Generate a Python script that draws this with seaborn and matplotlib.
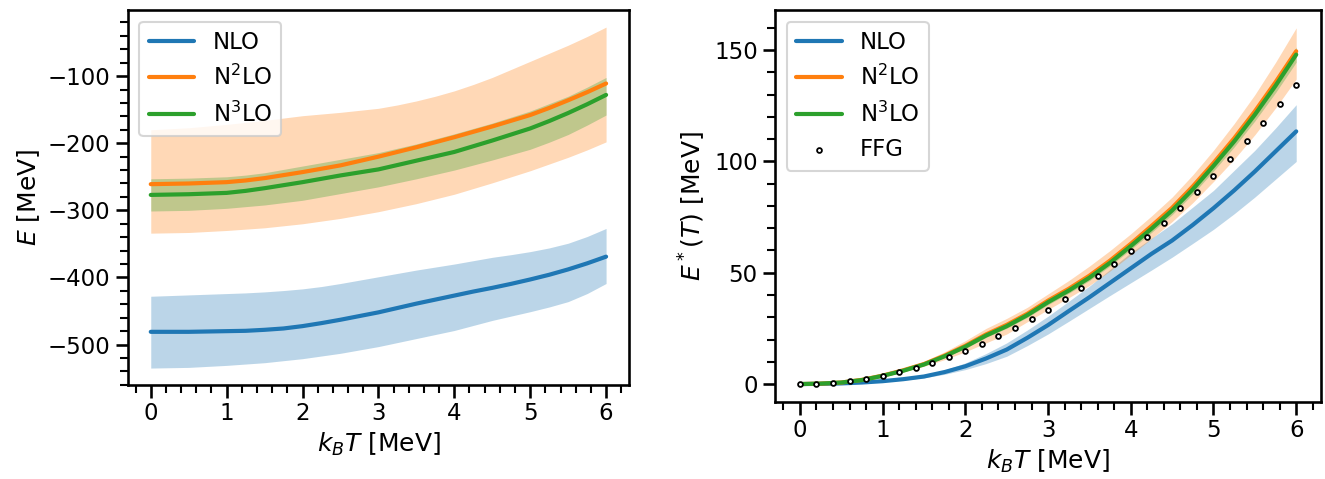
import matplotlib
matplotlib.use("Agg")
import matplotlib.pyplot as plt
from matplotlib.ticker import MultipleLocator
import seaborn as sns

# Temperature grid for the chiral-EFT curves [MeV]
kT = [0.0, 0.25, 0.5, 0.75, 1.0, 1.25, 1.5, 1.75, 2.0, 2.25, 2.5, 2.75, 3.0,
      3.25, 3.5, 3.75, 4.0, 4.25, 4.5, 4.75, 5.0, 5.25, 5.5, 5.75, 6.0]

# Total energy E(T) [MeV]: central values and truncation bands
E_nlo = [-481, -481, -481, -480.5, -480, -479.5, -478, -476, -472.5, -468, -463, -457.5, -452,
         -445.5, -439, -433, -427, -421, -415.5, -409.5, -403, -396, -388, -379, -369]
E_nlo_hi = [-428, -427, -426, -425, -424, -423, -421.5, -419.5, -417, -413.5, -409, -404, -399,
            -394, -389, -384.5, -380, -375, -370, -366, -361.5, -356, -349, -339, -327]
E_nlo_lo = [-535, -534.5, -534, -532.5, -531, -529, -527, -524, -521, -517, -513, -508, -503,
            -497, -491, -485, -479, -471.5, -464, -457.5, -451, -444, -436, -424, -409]

E_n2lo = [-261, -260.5, -260, -259, -258, -255.5, -252, -247.5, -243, -238, -233, -226.5, -220,
          -213, -206, -198.5, -191, -183, -175, -166.5, -158, -147.5, -136, -124, -111]
E_n2lo_hi = [-180, -178.5, -177, -174.5, -172, -169, -166, -162.5, -159, -156.5, -154, -151, -148,
             -143, -137, -130, -122, -112.5, -102, -90, -78, -66, -54, -41, -27]
E_n2lo_lo = [-334, -333.5, -333, -331.5, -330, -328, -326, -323, -320, -316, -312, -307, -302,
             -296, -290, -283, -276, -267.5, -259, -250, -241, -231, -221, -210, -198]

E_n3lo = [-277, -276.5, -276, -275, -274, -271, -267, -262.5, -258, -253, -248, -243.5, -239,
          -232.5, -226, -219.5, -213, -204.5, -196, -187, -178, -167, -155, -142, -128]
E_n3lo_hi = [-253, -252.5, -252, -251, -250, -247.5, -244, -239, -234, -229, -224, -219, -214,
             -207.5, -201, -193.5, -186, -178, -170, -161, -152, -141, -130, -116.5, -102]
E_n3lo_lo = [-301, -300.5, -300, -298.5, -297, -294.5, -292, -288.5, -285, -280, -275, -270, -265,
             -259, -253, -246.5, -240, -232.5, -225, -217, -209, -198.5, -187, -173, -158]

# Excitation energy E*(T) [MeV]
X_nlo = [0.0, 0.1, 0.3, 0.7, 1.3, 2.2, 3.4, 5.4, 8.0, 11.5, 15.5, 20.8, 26.5,
         32.8, 39.0, 45.5, 52.0, 58.5, 64.5, 71.5, 79.0, 87.0, 95.5, 104.5, 113.5]
X_nlo_hi = [0.0, 0.1, 0.4, 0.9, 1.6, 2.6, 4.0, 6.4, 9.5, 13.7, 18.5, 24.3, 30.5,
            37.2, 44.0, 51.5, 59.0, 65.5, 72.0, 79.5, 87.0, 96.0, 105.0, 115.0, 125.5]
X_nlo_lo = [0.0, 0.05, 0.2, 0.5, 1.0, 1.8, 2.8, 4.4, 6.5, 9.2, 12.5, 17.3, 22.5,
            28.2, 34.0, 39.8, 45.5, 51.2, 57.0, 63.2, 69.5, 76.5, 84.0, 92.0, 100.0]

X_n2lo = [0.0, 0.2, 0.7, 1.9, 3.8, 6.2, 9.0, 12.8, 17.2, 22.3, 26.6, 31.6, 37.5,
          42.8, 48.7, 55.5, 63.0, 71.0, 79.2, 88.8, 99.3, 110.4, 122.5, 135.6, 149.5]
X_n2lo_hi = [0.0, 0.25, 0.8, 2.1, 4.2, 6.9, 10.2, 14.5, 19.5, 25.0, 29.5, 34.5, 40.5,
             46.5, 53.0, 60.0, 67.5, 75.5, 84.0, 94.0, 105.0, 117.0, 130.0, 144.5, 160.0]
X_n2lo_lo = [0.0, 0.15, 0.6, 1.6, 3.3, 5.5, 8.0, 11.0, 14.5, 18.5, 22.5, 28.0, 33.5,
             38.8, 44.3, 50.8, 58.0, 65.3, 73.0, 81.5, 91.0, 101.0, 112.0, 124.0, 137.0]

X_n3lo = [0.0, 0.2, 0.7, 1.8, 3.7, 6.0, 8.8, 12.5, 16.8, 21.8, 26.0, 31.0, 36.8,
          42.0, 47.8, 54.5, 62.0, 69.8, 78.0, 87.5, 98.0, 109.0, 121.0, 134.0, 148.0]
X_n3lo_hi = [0.0, 0.25, 0.8, 2.0, 4.0, 6.4, 9.3, 13.1, 17.5, 22.6, 26.9, 32.0, 37.9,
             43.2, 49.1, 55.9, 63.5, 71.5, 79.9, 89.6, 100.3, 111.5, 123.8, 137.1, 151.4]
X_n3lo_lo = [0.0, 0.15, 0.6, 1.6, 3.4, 5.6, 8.3, 11.9, 16.1, 21.0, 25.1, 30.0, 35.7,
             40.8, 46.5, 53.1, 60.5, 68.1, 76.1, 85.4, 95.7, 106.5, 118.2, 130.9, 144.6]

# Free Fermi gas reference
kT_ffg = [0.0, 0.2, 0.4, 0.6, 0.8, 1.0, 1.2, 1.4, 1.6, 1.8, 2.0, 2.2, 2.4, 2.6, 2.8, 3.0,
          3.2, 3.4, 3.6, 3.8, 4.0, 4.2, 4.4, 4.6, 4.8, 5.0, 5.2, 5.4, 5.6, 5.8, 6.0]
X_ffg = [0.0, 0.0, 0.5, 1.2, 2.3, 3.5, 5.3, 7.2, 9.5, 12.0, 15.0, 18.1, 21.4, 25.2, 29.2, 33.4,
         38.2, 43.2, 48.4, 54.0, 59.7, 66.0, 72.3, 79.0, 86.2, 93.4, 101.0, 109.0, 117.3, 125.8, 134.5]

labels = ["NLO", "N$^2$LO", "N$^3$LO"]

sns.set_theme(style="ticks", context="talk",
              rc={"axes.edgecolor": "black", "text.color": "black",
                  "axes.labelcolor": "black", "xtick.color": "black",
                  "ytick.color": "black"})
plt.rcParams["font.family"] = ["DejaVu Sans"]

pal = sns.color_palette("tab10")
colors = [pal[0], pal[1], pal[2]]

fig = plt.figure(figsize=(13.25, 4.79), dpi=100)
ax1 = fig.add_axes([0.0966, 0.196, 0.378, 0.783])
ax2 = fig.add_axes([0.585, 0.161, 0.412, 0.818])

left_sets = [(E_nlo, E_nlo_lo, E_nlo_hi), (E_n2lo, E_n2lo_lo, E_n2lo_hi), (E_n3lo, E_n3lo_lo, E_n3lo_hi)]
right_sets = [(X_nlo, X_nlo_lo, X_nlo_hi), (X_n2lo, X_n2lo_lo, X_n2lo_hi), (X_n3lo, X_n3lo_lo, X_n3lo_hi)]

for ax, sets in ((ax1, left_sets), (ax2, right_sets)):
    for (mid, lo, hi), col in zip(sets, colors):
        ax.fill_between(kT, lo, hi, color=col, alpha=0.3, linewidth=0)
    for (mid, lo, hi), col, lab in zip(sets, colors, labels):
        sns.lineplot(x=kT, y=mid, ax=ax, color=col, linewidth=3, label=lab)

sns.scatterplot(x=kT_ffg, y=X_ffg, ax=ax2, marker="o", s=12, facecolor="white",
                edgecolor="black", linewidth=1.3, label="FFG", zorder=5)

ax1.set_xlabel("$k_BT$ [MeV]")
ax1.set_ylabel("$E$ [MeV]")
ax2.set_xlabel("$k_BT$ [MeV]")
ax2.set_ylabel("$E^*(T)$ [MeV]")

ax2.yaxis.set_major_locator(MultipleLocator(50))
ax2.yaxis.set_minor_locator(MultipleLocator(10))

for ax in (ax1, ax2):
    ax.set_xticks([0, 1, 2, 3, 4, 5, 6])
    ax.minorticks_on()
    ax.legend(loc="upper left")

fig.savefig("out.png", dpi=100)
